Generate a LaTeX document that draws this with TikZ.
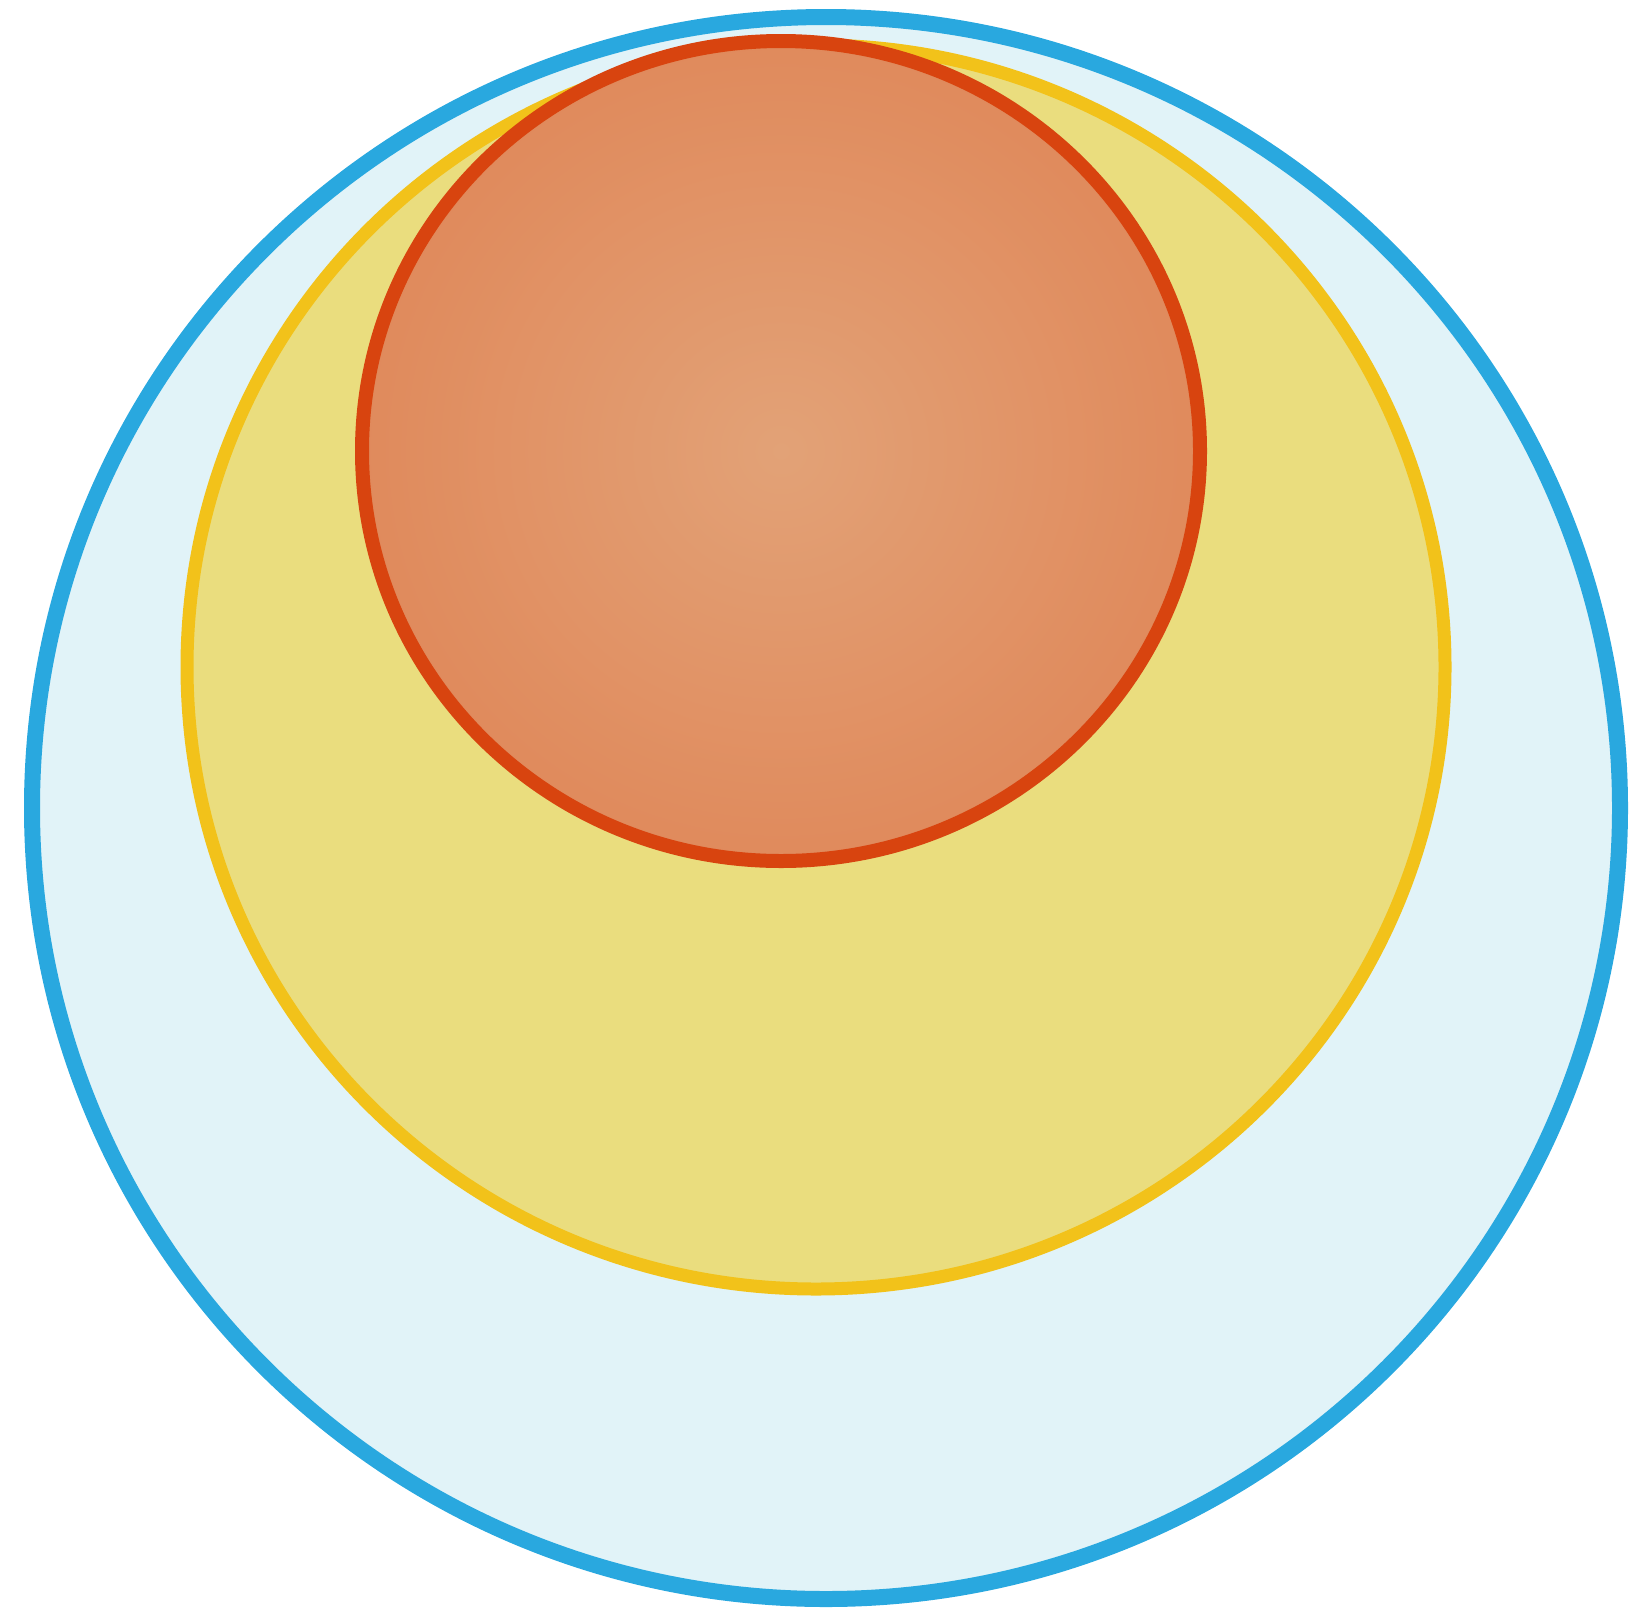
\documentclass[tikz,border=0pt]{standalone}
\usetikzlibrary{calc}

\definecolor{skyline}{HTML}{29A8DF}
\definecolor{skyfill}{HTML}{E1F3F8}
\definecolor{yolkline}{HTML}{F2C21A}
\definecolor{yolkfill}{HTML}{EADD7E}
\definecolor{coreline}{HTML}{D8440F}
\definecolor{corefill}{HTML}{E2A277}
\definecolor{coreedge}{HTML}{E08A5C}

\begin{document}
\begin{tikzpicture}[x=0.1mm, y=-0.1mm]
\useasboundingbox (0,0) rectangle (1630,1612);
\filldraw[draw=skyline, fill=skyfill, line width=1.6mm] (826,808) ellipse [x radius=794, y radius=791];
\filldraw[draw=yolkline, fill=yolkfill, line width=1.3mm] (816,667) ellipse [x radius=629, y radius=622];
\shade[inner color=corefill, outer color=coreedge] (781,451) ellipse [x radius=419, y radius=410];
\draw[coreline, line width=1.4mm] (781,451) ellipse [x radius=419, y radius=410];
\end{tikzpicture}
\end{document}
